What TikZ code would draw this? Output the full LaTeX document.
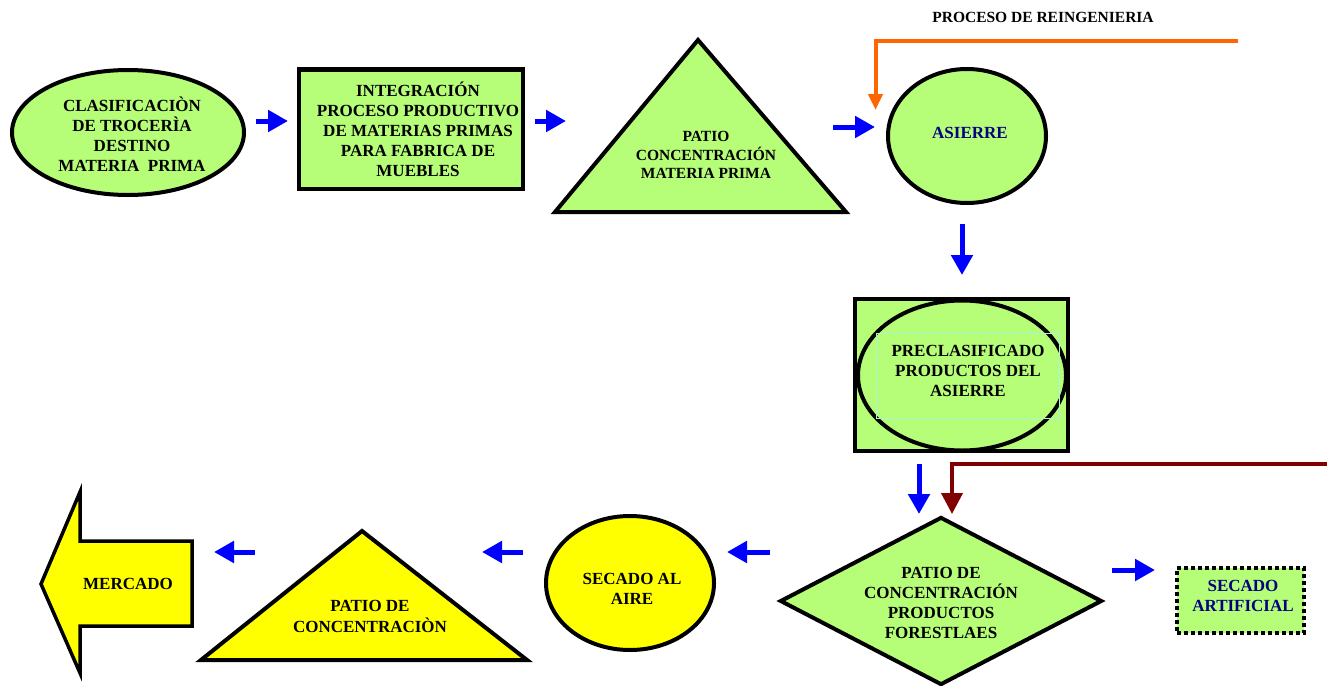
\documentclass[tikz,border=0pt]{standalone}
\usepackage{fontspec}
\setmainfont{Liberation Serif}
\usetikzlibrary{arrows.meta,shapes.geometric}

\definecolor{leaf}{RGB}{182,253,120}
\definecolor{sun}{RGB}{255,255,0}
\definecolor{flow}{RGB}{0,0,255}
\definecolor{reeng}{RGB}{255,102,0}
\definecolor{oxblood}{RGB}{128,0,0}
\definecolor{ink}{RGB}{0,0,128}
\definecolor{txtframe}{RGB}{170,245,215}

\begin{document}
\begin{tikzpicture}[x=1pt,y=-1pt,
  outline/.style={draw=black,line width=4pt,line join=miter},
  greenshape/.style={outline,fill=leaf},
  yellowshape/.style={outline,fill=sun},
  tx/.style={align=center,inner sep=0pt,font=\bfseries\fontsize{17}{20}\selectfont},
  smalltx/.style={align=center,inner sep=0pt,font=\bfseries\fontsize{15.5}{18.5}\selectfont},
  blockarrow/.style={draw=flow,line width=5pt,-{Triangle[length=20pt,width=21pt]}},
  feedline/.style={line width=4pt,line join=miter}
]
\useasboundingbox (0,0) rectangle (1327,685);

% ---------- top row ----------
\node[greenshape,ellipse,minimum width=232pt,minimum height=125pt,inner sep=0pt] (clas) at (128,132.5) {};
\node[tx] (clastx) at (132,134.5) {CLASIFICACIÒN\\DE TROCERÌA\\DESTINO\\MATERIA\ \ PRIMA};

\node[greenshape,rectangle,minimum width=224pt,minimum height=119pt,inner sep=0pt] (integ) at (410.5,129) {};
\node[tx] (integtx) at (418,129) {INTEGRACIÓN\\PROCESO PRODUCTIVO\\DE MATERIAS PRIMAS\\PARA FABRICA DE\\MUEBLES};

\coordinate (patioL) at (555,212);
\coordinate (patioT) at (698,40);
\coordinate (patioR) at (846,212);
\draw[greenshape] (patioL) -- (patioT) -- (patioR) -- cycle;
\node[smalltx] (patiotx) at (706,155) {PATIO\\CONCENTRACIÓN\\MATERIA PRIMA};

\node[greenshape,ellipse,minimum width=158pt,minimum height=134pt,inner sep=0pt] (asi) at (967,136) {};
\node[tx,text=ink] (asitx) at (970,133) {ASIERRE};

\node[smalltx] (reengtx) at (1043,17) {PROCESO DE REINGENIERIA};

% ---------- middle ----------
\node[greenshape,rectangle,line width=4.5pt,minimum width=213pt,minimum height=152pt,inner sep=0pt] (precbox) at (961.5,375) {};
\node[greenshape,ellipse,line width=4pt,minimum width=208pt,minimum height=150pt,inner sep=0pt] (precell) at (962,375.5) {};
\node[draw=txtframe,line width=0.8pt,minimum width=183pt,minimum height=85pt,inner sep=0pt] (precframe) at (967.5,375.5) {};
\node[tx] (prectx) at (968,371) {PRECLASIFICADO\\PRODUCTOS DEL\\ASIERRE};

% ---------- bottom row ----------
\node[greenshape,diamond,minimum width=322pt,minimum height=168pt,inner sep=0pt] (patioprod) at (941,601) {};
\node[tx] (patioprodtx) at (941,603) {PATIO DE\\CONCENTRACIÓN\\PRODUCTOS\\FORESTLAES};

\node[draw=black,fill=leaf,line width=4pt,dash pattern=on 4pt off 3pt,minimum width=127pt,minimum height=65pt,inner sep=0pt] (secart) at (1240.5,600.5) {};
\node[tx,text=ink] (secarttx) at (1243,596) {SECADO\\ARTIFICIAL};

\node[yellowshape,ellipse,minimum width=168pt,minimum height=134pt,inner sep=0pt] (aire) at (630,583) {};
\node[tx] (airetx) at (632,589) {SECADO AL\\AIRE};

\coordinate (concL) at (201,660);
\coordinate (concT) at (362,531);
\coordinate (concR) at (527,660);
\draw[yellowshape] (concL) -- (concT) -- (concR) -- cycle;
\node[tx,font=\bfseries\fontsize{17}{21}\selectfont] (conctx) at (370,616.5) {PATIO DE\\CONCENTRACIÒN};

\draw[yellowshape,line width=3.5pt] (41,584) -- (80,492) -- (80,541) -- (192,541) -- (192,626) -- (80,626) -- (80,673) -- cycle;
\node[tx] (mercado) at (128,584) {MERCADO};

% ---------- flow arrows ----------
\coordinate (a1s) at (256,121);  \coordinate (a1e) at (288,121);
\coordinate (a2s) at (535,121);  \coordinate (a2e) at (566,121);
\coordinate (a3s) at (833,127);  \coordinate (a3e) at (875,127);
\coordinate (a4s) at (962,224);  \coordinate (a4e) at (962,275);
\coordinate (a5s) at (919,464);  \coordinate (a5e) at (919,514);
\coordinate (a6s) at (1112,570); \coordinate (a6e) at (1155,570);
\coordinate (b1s) at (770,552);  \coordinate (b1e) at (727,552);
\coordinate (b2s) at (523,552);  \coordinate (b2e) at (482,552);
\coordinate (b3s) at (255,552);  \coordinate (b3e) at (214,552);
\foreach \a in {a1,a2,a3,a4,a5,a6,b1,b2,b3}
  \draw[blockarrow] (\a s) -- (\a e);

% ---------- feedback lines ----------
\coordinate (reengstart) at (1238,41.3);
\coordinate (reengend) at (875.5,110);
\draw[feedline,draw=reeng,-{Triangle[length=16pt,width=14pt]}] (reengstart) -| (reengend);

\coordinate (backstart) at (1327,463.5);
\coordinate (backend) at (952,514);
\draw[feedline,draw=oxblood,-{Triangle[length=21pt,width=21pt]}] (backstart) -| (backend);
\end{tikzpicture}
\end{document}
